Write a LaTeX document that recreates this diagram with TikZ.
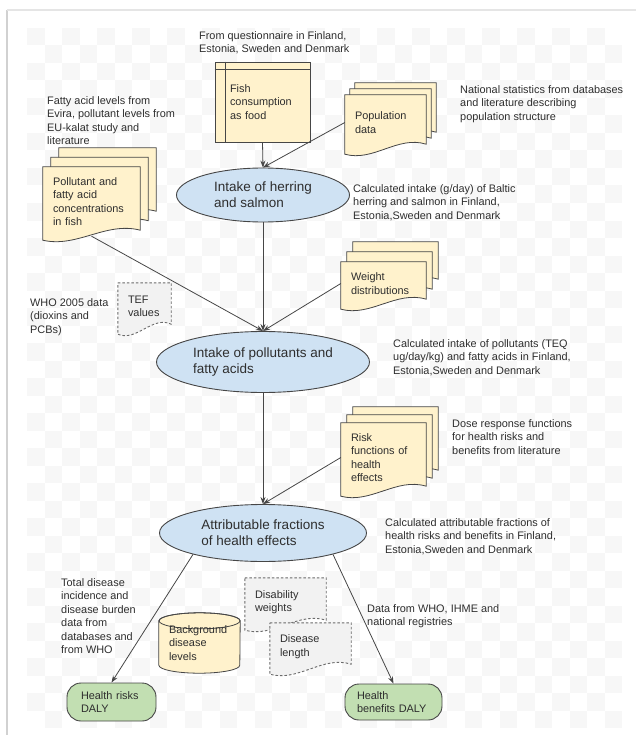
\documentclass[tikz,border=0pt]{standalone}
\usepackage{fontspec}
\setmainfont{Liberation Sans}
\usetikzlibrary{calc,positioning,shapes.geometric,arrows.meta,backgrounds}

\definecolor{docyellow}{HTML}{FFF2CC}
\definecolor{ovalblue}{HTML}{CFE2F3}
\definecolor{dalygreen}{HTML}{C2DFB2}
\definecolor{dashfill}{HTML}{F2F2F2}
\definecolor{edge}{HTML}{464646}
\definecolor{inkgray}{HTML}{2E2E2E}

\newcommand{\notefont}{\fontsize{10.9pt}{13.5pt}\selectfont}
\newcommand{\ovalfont}{\fontsize{13.5pt}{16pt}\selectfont}

% page with a wavy bottom behind node #1, shifted by #2
\newcommand{\wavypage}[3]{%
  \path[#3] ($(#1.north west)+(#2)$) -- ($(#1.north east)+(#2)$)
    -- ($(#1.south east)+(#2)+(0,-6)$)
    .. controls ($(#1.south east)!0.35!(#1.south west)+(#2)+(0,-15)$) and ($(#1.south east)!0.65!(#1.south west)+(#2)+(0,12)$)
    .. ($(#1.south west)+(#2)+(0,4)$) -- cycle;}

\begin{document}
\begin{tikzpicture}[x=1pt,y=-1pt,font=\notefont,text=inkgray,
  note/.style={anchor=north west,inner sep=0pt,align=left},
  paper/.style={fill=docyellow,draw=edge,line width=0.8pt},
  dashpaper/.style={fill=dashfill,draw=edge!80,line width=0.9pt,dash pattern=on 2.5pt off 2pt},
  pagebox/.style={inner xsep=10pt,inner ysep=0pt,align=left},
  oval/.style={ellipse,fill=ovalblue,draw=edge,line width=0.9pt,inner sep=0pt,align=left,font=\ovalfont},
  outcome/.style={rounded corners=14pt,fill=dalygreen,draw=edge,line width=0.9pt,inner xsep=14pt,inner ysep=0pt,align=left,minimum height=38pt},
  flow/.style={draw=edge,line width=0.8pt,-{Stealth[length=7pt,width=5pt]}}]
\useasboundingbox (0,0) rectangle (636,735);

% faint checker and frame
\begin{scope}[on background layer]
\foreach \i [evaluate=\i as \off using {mod(\i,2)}] in {0,...,33}
  \foreach \j in {0,2,...,38}
    \fill[black!3] ({27+17.5*\i},{28+17.5*(\j+\off)}) rectangle +(17.5,17.5);
\draw[black!18,line width=2.5pt] (7,735) -- (7,10);
\draw[black!10,line width=2pt] (7,10) -- (636,10);
\end{scope}

% sources
\node[note] (qnote) at (199,31) {From questionnaire in Finland,\\Estonia, Sweden and Denmark};
\node[draw=edge,fill=docyellow,line width=0.8pt,pagebox,text width=65pt,inner xsep=15pt,minimum height=80pt] (fish) at (262.5,102) {Fish\\consumption\\as food};
\draw[edge,line width=0.8pt] ($(fish.north west)+(0,8)$) -- ($(fish.north east)+(0,8)$);
\draw[edge,line width=0.8pt] ($(fish.north west)+(11,0)$) -- ($(fish.south west)+(11,0)$);
\node[pagebox,text width=61pt,minimum height=55pt] (pop) at (385.5,122.5) {Population\\data};
\node[note] (natnote) at (460,85) {National statistics from databases\\and literature describing\\population structure};
\node[note] (fatnote) at (47,96) {Fatty acid levels from\\Evira, pollutant levels from\\EU-kalat study and\\literature};
\node[pagebox,text width=77pt,minimum height=69pt] (poll) at (91.5,201.5) {Pollutant and\\fatty acid\\concentrations\\in fish};

% intake of fish
\node[oval,minimum width=173pt,minimum height=54pt] (herring) at (263,195) {Intake of herring\\and salmon};
\node[note] (calcnote1) at (353,184) {Calculated intake (g/day) of Baltic\\herring and salmon in Finland,\\Estonia,Sweden and Denmark};
\node[pagebox,text width=65pt,minimum height=43pt] (weight) at (383.5,283.5) {Weight\\distributions};
\node[pagebox,text width=33pt,minimum height=47pt] (tef) at (144.5,306.5) {TEF\\values};
\node[note] (whonote) at (30,298) {WHO 2005 data\\(dioxins and\\PCBs)};

% intake of pollutants
\node[oval,minimum width=213pt,minimum height=61pt] (pollint) at (263,362) {Intake of pollutants and\\fatty acids};
\node[note] (calcnote2) at (393,339) {Calculated intake of pollutants (TEQ\\ug/day/kg) and fatty acids in Finland,\\Estonia,Sweden and Denmark};
\node[pagebox,text width=65pt,minimum height=69pt] (risk) at (383.5,457.5) {Risk\\functions of\\health\\effects};
\node[note] (dosenote) at (452,419) {Dose response functions\\for health risks and\\benefits from literature};

% attributable fractions
\node[oval,minimum width=207pt,minimum height=57pt] (attr) at (263,533) {Attributable fractions\\of health effects};
\node[note] (calcnote3) at (385,518) {Calculated attributable fractions of\\health risks and benefits in Finland,\\Estonia,Sweden and Denmark};
\node[note] (totnote) at (61,578) {Total disease\\incidence and\\disease burden\\data from\\databases and\\from WHO};
\node[pagebox,text width=61pt,minimum height=48pt] (disw) at (285.5,602) {Disability\\weights};
\node[pagebox,text width=61pt,minimum height=47pt] (disl) at (310.5,646.5) {Disease\\length};
\node[pagebox,text width=61pt,minimum height=44pt] (bgdis) at (199.5,643) {Background\\disease\\levels};
\node[note] (datanote) at (367,604) {Data from WHO, IHME and\\national registries};
\node[outcome,text width=61pt] (hrisk) at (111.5,702) {Health risks\\DALY};
\node[outcome,text width=73pt,inner xsep=12pt,minimum height=36pt] (hben) at (393.5,702) {Health\\benefits DALY};

% pages behind the text
\begin{scope}[on background layer]
\wavypage{pop}{10,-12}{paper}
\wavypage{pop}{5,-6}{paper}
\wavypage{pop}{0,0}{paper}
\wavypage{poll}{16,-19}{paper}
\wavypage{poll}{8,-9.5}{paper}
\wavypage{poll}{0,0}{paper}
\wavypage{weight}{12,-20}{paper}
\wavypage{weight}{6,-10}{paper}
\wavypage{weight}{0,0}{paper}
\wavypage{risk}{12,-16}{paper}
\wavypage{risk}{6,-8}{paper}
\wavypage{risk}{0,0}{paper}
\wavypage{tef}{0,0}{dashpaper}
\wavypage{disw}{0,0}{dashpaper}
\wavypage{disl}{0,0}{dashpaper}
\path[paper] (bgdis.north west) -- (bgdis.south west)
  arc[start angle=180,end angle=360,x radius=40.5pt,y radius=8pt] -- (bgdis.north east)
  arc[start angle=0,end angle=180,x radius=40.5pt,y radius=8pt] -- cycle;
\draw[edge,line width=0.8pt] (bgdis.north) ellipse[x radius=40.5pt,y radius=8pt];
\end{scope}

% flow
\draw[flow] (fish.south) -- (herring.north);
\draw[flow] (pop.west) -- (herring.north);
\draw[flow] (poll.south) -- (pollint.north);
\draw[flow] (herring.south) -- (pollint.north);
\draw[flow] (weight.west) -- (pollint.north);
\draw[flow] (pollint.south) -- (attr.north);
\draw[flow] (risk.west) -- (attr.north);
\draw[flow] (attr.197) -- (hrisk.north);
\draw[flow] (attr.343) -- (hben.north);
\end{tikzpicture}
\end{document}
